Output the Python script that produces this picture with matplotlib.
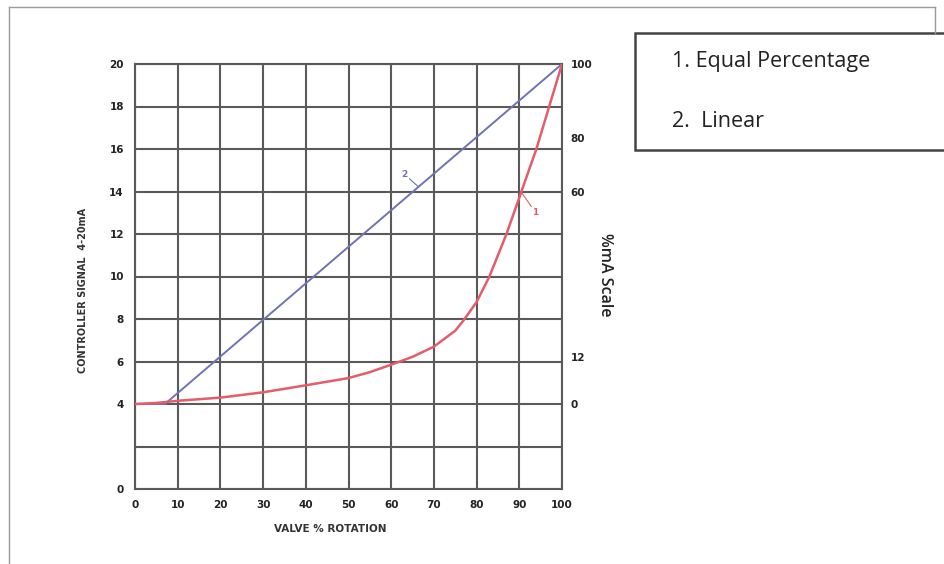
import matplotlib
matplotlib.use('Agg')
import matplotlib.pyplot as plt
from matplotlib.patches import Rectangle
from matplotlib.lines import Line2D

# valve rotation (%) vs controller signal (mA)
linear_x = [0, 7, 100]
linear_y = [4, 4, 20]

eqpct_x = [0, 5, 10, 20, 30, 40, 50, 55, 60, 65, 70, 75, 77, 80, 83, 87, 90.5, 94, 97, 100]
eqpct_y = [4, 4.05, 4.15, 4.3, 4.55, 4.88, 5.22, 5.5, 5.85, 6.22, 6.7, 7.45, 7.95, 8.8, 10, 12, 14, 16, 18, 20]

x_ticks = list(range(0, 101, 10))
y_ticks = list(range(0, 21, 2))
y_labels = ['0', '', '4', '6', '8', '10', '12', '14', '16', '18', '20']

right_ticks = [4, 6.2, 14, 16.5, 20]
right_labels = ['0', '12', '60', '80', '100']

legend_lines = ['1. Equal Percentage', '2.  Linear']

W, H = 945, 564
grid_col = '#5a5a5a'
blue = '#6f74b0'
red = '#e35d6a'

fig = plt.figure(figsize=(W / 100, H / 100), dpi=100)
fig.patch.set_facecolor('white')

ax = fig.add_axes([135 / W, 1 - 489 / H, (562 - 135) / W, (489 - 64) / H])
ax.set_xlim(0, 100)
ax.set_ylim(0, 20)
ax.set_xticks(x_ticks)
ax.set_xticklabels([str(v) for v in x_ticks])
ax.set_yticks(y_ticks)
ax.set_yticklabels(y_labels)
ax.grid(True, color=grid_col, linewidth=1.5)
ax.tick_params(length=0, pad=8, labelsize=7.5, colors='#222222')
for lab in ax.get_xticklabels() + ax.get_yticklabels():
    lab.set_fontweight('bold')
for s in ax.spines.values():
    s.set_color(grid_col)
    s.set_linewidth(1.5)

ax.plot(linear_x, linear_y, color=blue, linewidth=1.4, zorder=3)
ax.plot(eqpct_x, eqpct_y, color=red, linewidth=1.8, zorder=4)

# small curve markers
ax.text(63.2, 14.8, '2', fontsize=6.5, color=blue, fontweight='bold', ha='center', va='center')
ax.plot([64.3, 66.2], [14.6, 14.25], color=blue, linewidth=0.8)
ax.text(93.8, 13.0, '1', fontsize=6.5, color=red, fontweight='bold', ha='center', va='center')
ax.plot([90.7, 92.8], [13.9, 13.3], color=red, linewidth=0.8)

ax.set_xlabel('VALVE % ROTATION', fontsize=7.5, fontweight='bold', color='#333333', labelpad=14)
ax.xaxis.set_label_coords(0.457, -0.083)
ax.set_ylabel('CONTROLLER SIGNAL  4-20mA', fontsize=7, fontweight='bold', color='#333333')
ax.yaxis.set_label_coords(-0.11, 0.468)

ax2 = ax.twinx()
ax2.set_ylim(0, 20)
ax2.set_yticks(right_ticks)
ax2.set_yticklabels(right_labels)
ax2.tick_params(length=0, pad=6, labelsize=7.5, colors='#222222')
for lab in ax2.get_yticklabels():
    lab.set_fontweight('bold')
for s in ax2.spines.values():
    s.set_visible(False)

fig.text(605 / W, 1 - 275 / H, '%mA Scale', rotation=270, fontsize=11.5,
         family='Open Sans', fontweight='semibold', color='#222222',
         ha='center', va='center')

# page border lines
fig.add_artist(Line2D([9 / W, 935 / W], [1 - 7 / H, 1 - 7 / H], color='#999999', linewidth=1))
fig.add_artist(Line2D([9 / W, 9 / W], [0, 1 - 7 / H], color='#999999', linewidth=1))
fig.add_artist(Line2D([935 / W, 935 / W], [1 - 33 / H, 1 - 7 / H], color='#999999', linewidth=1))

# legend box
fig.add_artist(Rectangle((635 / W, 1 - 150 / H), 330 / W, 117 / H,
                         transform=fig.transFigure, facecolor='white',
                         edgecolor='#444444', linewidth=1.8))
fig.text(672 / W, 1 - 61 / H, legend_lines[0], fontsize=15.5, family='Open Sans',
         color='#222222', va='center', ha='left')
fig.text(672 / W, 1 - 121 / H, legend_lines[1], fontsize=15.5, family='Open Sans',
         color='#222222', va='center', ha='left')

fig.savefig('out.png', dpi=100, facecolor='white')
